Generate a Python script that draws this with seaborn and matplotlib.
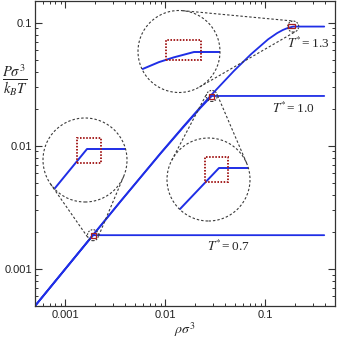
import numpy as np
import pandas as pd
import matplotlib
matplotlib.use("Agg")
import matplotlib.pyplot as plt
from matplotlib.patches import Circle, Rectangle
from matplotlib.lines import Line2D
from matplotlib.transforms import IdentityTransform
import seaborn as sns

# isotherms: rho*sigma^3 vs P*sigma^3/(kB T)
rho_07 = [0.0005, 0.0019, 0.39]
p_07 = [0.0005, 0.00188, 0.00188]

rho_10 = [0.0005, 0.00357, 0.00902, 0.01535, 0.02276, 0.0293, 0.39]
p_10 = [0.0005, 0.00352, 0.00867, 0.01429, 0.02047, 0.0254, 0.0254]

rho_13 = [0.0005, 0.00357, 0.00902, 0.01535, 0.02276, 0.0300, 0.0488, 0.0722,
          0.1071, 0.132, 0.150, 0.1626, 0.1741, 0.191, 0.39]
p_13 = [0.0005, 0.00353, 0.00873, 0.01446, 0.0208, 0.02667, 0.04059, 0.05541,
        0.07325, 0.08233, 0.08712, 0.08956, 0.09116, 0.093, 0.093]

temps = ['0.7', '1.0', '1.3']
rhos = [rho_07, rho_10, rho_13]
pres = [p_07, p_10, p_13]

sns.set_style("ticks")
plt.rcParams['font.family'] = ['Liberation Sans', 'DejaVu Sans']
plt.rcParams['mathtext.fontset'] = 'stix'

W, H = 339, 338
blue = '#1f2ee6'
dash_col = '#3a3a3a'
red = '#a52020'

fig = plt.figure(figsize=(W / 100, H / 100), dpi=100)
# axes box in pixels: left 35, right 335, top 1, bottom 306
ax = fig.add_axes([35 / W, (H - 306) / H, 300 / W, 305 / H])

for r, p in zip(rhos, pres):
    sns.lineplot(x=r, y=p, ax=ax, sort=False, color=blue, linewidth=1.3)

ax.set_xscale('log')
ax.set_yscale('log')
ax.set_xlim(0.0005, 0.5)
ax.set_ylim(0.0005, 0.15)
ax.set_xticks([0.001, 0.01, 0.1])
ax.set_xticklabels(['0.001', '0.01', '0.1'])
ax.set_yticks([0.001, 0.01, 0.1])
ax.set_yticklabels(['0.001', '0.01', '0.1'])
ax.tick_params(which='both', direction='in', top=True, right=True,
               color='#333333', labelsize=8, labelcolor='#222222')
ax.tick_params(which='major', length=5, width=0.8)
ax.tick_params(which='minor', length=2.5, width=0.7)
ax.tick_params(axis='x', pad=3)
ax.tick_params(axis='y', pad=2)
for s in ax.spines.values():
    s.set_linewidth(0.9)
    s.set_color('#333333')

ax.set_xlabel(r'$\rho\sigma^3$', fontsize=10, labelpad=0)
fig.text(15 / W, 1 - 80 / H, r'$\dfrac{P\sigma^3}{k_BT}$', fontsize=10.5,
         ha='center', va='center')

# T* labels
lab_pos = {'1.3': (0.27, 0.0676), '1.0': (0.191, 0.0201), '0.7': (0.0435, 0.00151)}
for t in temps:
    ax.text(*lab_pos[t], r'$T^{*}$= ' + t, fontsize=9.5, ha='center', va='center',
            family=['Liberation Serif', 'DejaVu Serif'])

# magnifier insets: circle centre/radius (px), kink offset from centre, red box
mag = 5.0
insets = {
    '0.7': dict(c=(85, 160), r=42, k=(2, 11), box=(4, 9.5, 24, 25)),
    '1.0': dict(c=(208.5, 179.5), r=41.5, k=(10.5, 11.5), box=(8, 10, 23, 25)),
    '1.3': dict(c=(179, 51.5), r=41, k=(15, -0.5), box=(4.5, 1.5, 35, 20)),
}
xdec = np.log10(0.5 / 0.0005) / 300
ydec = np.log10(0.15 / 0.0005) / 305
idt = IdentityTransform()
dash = (0, (2.2, 1.8))
small_r = 5.5


def disp(x, y):
    return np.array([x, H - y])


for t, r, p in zip(temps, rhos, pres):
    spec = insets[t]
    cx, cy = spec['c']
    R = spec['r']
    kx, ky = r[-2], p[-2]
    ox, oy = spec['k']

    ia = fig.add_axes([(cx - R) / W, (H - cy - R) / H, 2 * R / W, 2 * R / H])
    sns.lineplot(x=r, y=p, ax=ia, sort=False, color=blue, linewidth=1.4)
    ia.set_xscale('log')
    ia.set_yscale('log')
    lx = np.log10(kx) - ox * xdec / mag
    ly = np.log10(ky) - oy * ydec / mag
    ia.set_xlim(10 ** (lx - R * xdec / mag), 10 ** (lx + R * xdec / mag))
    ia.set_ylim(10 ** (ly - R * ydec / mag), 10 ** (ly + R * ydec / mag))
    ia.axis('off')
    clip = Circle((0.5, 0.5), 0.5, transform=ia.transAxes)
    for ln in ia.lines:
        ln.set_clip_path(clip)

    C = disp(cx, cy)
    fig.add_artist(Circle(C, R, transform=idt, fill=False, ec=dash_col,
                          lw=0.8, ls=dash))
    bx, by, bw, bh = spec['box']
    fig.add_artist(Rectangle((C[0] + bx - bw / 2, C[1] + by - bh / 2), bw, bh,
                             transform=idt, fill=False, ec=red, lw=1.4,
                             ls=(0, (0.8, 0.8))))

    # small circle at the kink on the main plot
    k = ax.transData.transform((kx, ky))
    fig.add_artist(Circle(k, small_r, transform=idt, fill=False, ec=dash_col,
                          lw=0.8, ls=(0, (1.5, 1.2))))
    sx = (bx - ox) / mag
    sy = (by - oy) / mag
    fig.add_artist(Rectangle((k[0] + sx - bw / mag / 2, k[1] + sy - bh / mag / 2),
                             bw / mag, bh / mag, transform=idt, fill=False,
                             ec=red, lw=0.9))

    # outer tangents between the two circles
    d = k - C
    dist = np.hypot(*d)
    u = d / dist
    up = np.array([-u[1], u[0]])
    cth = (R - small_r) / dist
    sth = np.sqrt(1 - cth ** 2)
    for sgn in (1, -1):
        n = cth * u + sgn * sth * up
        a = C + R * n
        b = k + small_r * n
        fig.add_artist(Line2D([a[0], b[0]], [a[1], b[1]], transform=idt,
                              color=dash_col, lw=0.8, ls=dash))

fig.savefig('out.png', dpi=100)
